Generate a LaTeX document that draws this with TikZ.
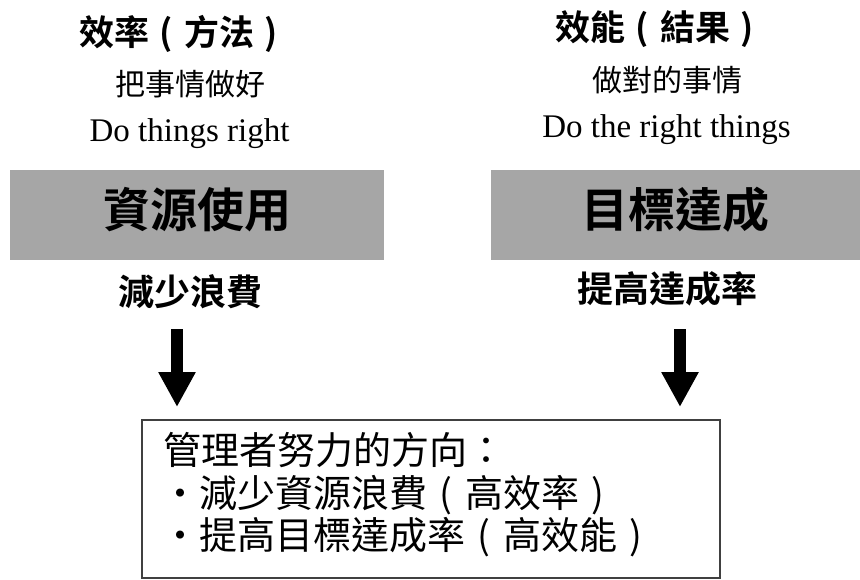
\documentclass[tikz,border=0pt]{standalone}
\usepackage{fontspec}
\setmainfont{Noto Sans CJK TC}[BoldFont={Noto Sans CJK TC Bold}]
\newfontfamily\latinserif{Liberation Serif}
\usetikzlibrary{arrows.meta}
\definecolor{boxgray}{RGB}{166,166,166}
\definecolor{edgegray}{RGB}{64,64,64}
\newcommand\fwlp{\makebox[1em][c]{(}}
\newcommand\fwrp{\makebox[1em][c]{)}}
\begin{document}
\begin{tikzpicture}[x=1pt,y=-1pt,
  headtxt/.style={font=\fontsize{35}{40}\selectfont\bfseries, anchor=base, inner sep=0},
  subtxt/.style={font=\fontsize{30}{34}\selectfont, anchor=base, inner sep=0},
  engtxt/.style={font=\latinserif\fontsize{33}{38}\selectfont, anchor=base, inner sep=0},
  graybox/.style={fill=boxgray, minimum height=90, inner sep=0,
    font=\fontsize{47}{52}\selectfont\bfseries, text height=36pt, text depth=12pt},
  goaltxt/.style={font=\fontsize{36}{40}\selectfont\bfseries, anchor=base, inner sep=0},
  dirbox/.style={draw=edgegray, line width=1.5pt, minimum width=578, minimum height=158, inner sep=0},
  dirtxt/.style={font=\fontsize{38}{43}\selectfont, anchor=base west, inner sep=0},
  bigarrow/.style={line width=12pt, -{Triangle[width=35pt,length=35pt]}}
]
\useasboundingbox (0,0) rectangle (860,579);
% left column
\node[headtxt] (efftitle) at (184,45) {效率\fwlp 方法\fwrp};
\node[subtxt] (effsub) at (190,95) {把事情做好};
\node[engtxt] (effeng) at (189.5,141) {Do things right};
\node[graybox, minimum width=374] (resbox) at (197,215) {資源使用};
\node[goaltxt] (reduce) at (190.5,305) {減少浪費};
% right column
\node[headtxt] (efctitle) at (660,40) {效能\fwlp 結果\fwrp};
\node[subtxt] (efcsub) at (667,91) {做對的事情};
\node[engtxt] (efceng) at (666.5,137) {Do the right things};
\node[graybox, minimum width=369] (goalbox) at (675.5,215) {目標達成};
\node[goaltxt] (raise) at (667,302) {提高達成率};
% arrows
\coordinate (a1s) at (177,329);
\coordinate (a1e) at (177,407);
\coordinate (a2s) at (680,329);
\coordinate (a2e) at (680,407);
\draw[bigarrow] (a1s) -- (a1e);
\draw[bigarrow] (a2s) -- (a2e);
% bottom box
\node[dirbox] (dir) at (431,499) {};
\node[dirtxt] (dirl1) at (163,464) {管理者努力的方向：};
\node[dirtxt] (dirl2) at (161,507) {・減少資源浪費\fwlp 高效率\fwrp};
\node[dirtxt] (dirl3) at (161,549) {・提高目標達成率\fwlp 高效能\fwrp};
\end{tikzpicture}
\end{document}
